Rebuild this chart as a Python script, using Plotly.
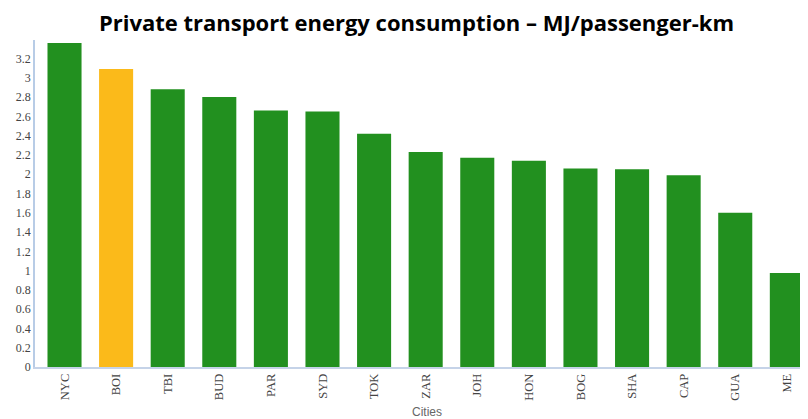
import plotly.graph_objects as go

cities = ["NYC", "BOI", "TBI", "BUD", "PAR", "SYD", "TOK", "ZAR", "JOH", "HON", "BOG", "SHA", "CAP", "GUA", "ME"]
values = [3.36, 3.09, 2.88, 2.80, 2.66, 2.65, 2.42, 2.23, 2.17, 2.14, 2.06, 2.05, 1.99, 1.60, 0.975]
highlight = "BOI"
tick_vals = [0, 0.2, 0.4, 0.6, 0.8, 1, 1.2, 1.4, 1.6, 1.8, 2, 2.2, 2.4, 2.6, 2.8, 3, 3.2]
tick_text = ["0", "0.2", "0.4", "0.6", "0.8", "1", "1.2", "1.4", "1.6", "1.8", "2", "2.2", "2.4", "2.6", "2.8", "3", "3.2"]

colors = ["#FBBA1A" if c == highlight else "#22901F" for c in cities]

fig = go.Figure(go.Bar(x=list(range(len(cities))), y=values,
                       marker=dict(color=colors, line=dict(width=0)), width=0.66))

fig.update_layout(
    width=800, height=411,
    margin=dict(l=27, r=0, t=32, b=52),
    plot_bgcolor="white", paper_bgcolor="white",
    showlegend=False,
    title=dict(text="<b>Private transport energy consumption – MJ/passenger-km</b>",
               x=0.5106, xanchor="center", y=0.962, yanchor="middle", pad=dict(t=0, b=0),
               font=dict(family="Open Sans", size=22, color="black")),
    xaxis=dict(range=[-0.572, 14.41], tickmode="array", tickvals=list(range(len(cities))), ticktext=cities,
               tickangle=-90, tickfont=dict(family="Liberation Serif", size=12.5, color="#444"),
               showline=True, linecolor="#c5d3e8", linewidth=1.5, showgrid=False, ticks="", zeroline=False),
    yaxis=dict(range=[0, 3.392], tickmode="array", tickvals=tick_vals, ticktext=tick_text,
               tickfont=dict(family="Liberation Serif", size=12, color="#444"),
               showline=True, linecolor="#b8cce6", linewidth=1.5, showgrid=False, ticks="", zeroline=False),
    annotations=[dict(text="Cities", x=0.507, xref="paper", y=-0.138, yref="paper",
                      showarrow=False, font=dict(family="Liberation Sans", size=12, color="#666"),
                      xanchor="center", yanchor="middle")]
)

fig.write_html("out.html")
